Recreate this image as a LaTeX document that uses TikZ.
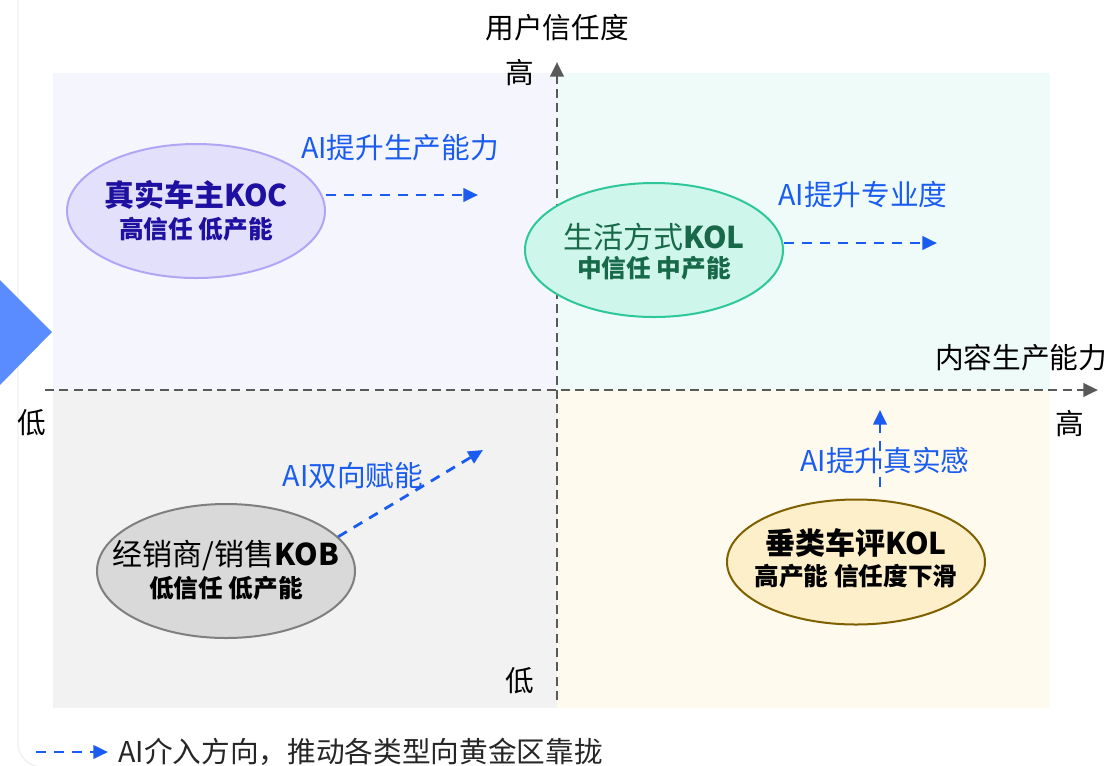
\documentclass[tikz,border=0pt]{standalone}
\usepackage{fontspec}
\setmainfont{Noto Sans CJK SC}
\usetikzlibrary{arrows.meta,shapes.geometric}
\definecolor{tlfill}{HTML}{F5F5FE}
\definecolor{trfill}{HTML}{EEFBF8}
\definecolor{blfill}{HTML}{F2F2F2}
\definecolor{brfill}{HTML}{FEFAEE}
\definecolor{eonefill}{HTML}{E3E0FB}
\definecolor{eonedraw}{HTML}{B0A6F5}
\definecolor{eonetext}{HTML}{1E10A0}
\definecolor{etwofill}{HTML}{CFF6EA}
\definecolor{etwodraw}{HTML}{2DC79A}
\definecolor{etwotext}{HTML}{17694A}
\definecolor{ethreefill}{HTML}{D9D9D9}
\definecolor{ethreedraw}{HTML}{7F7F7F}
\definecolor{efourfill}{HTML}{FCEFC9}
\definecolor{efourdraw}{HTML}{7F6000}
\definecolor{aiblue}{HTML}{1A5CF0}
\definecolor{axisgray}{HTML}{595959}
\definecolor{tricol}{HTML}{5B8CFF}
\definecolor{framecol}{HTML}{F0F0F0}
\newcommand{\lblfont}{\fontsize{21.5}{24}\selectfont}
\newcommand{\ttlfont}{\fontsize{22.5}{26}\selectfont}
\newcommand{\subfont}{\fontsize{18.5}{21}\selectfont\bfseries}
\begin{document}
\begin{tikzpicture}[x=0.75pt,y=-0.75pt,
  ell/.style={ellipse, line width=1.5pt, minimum width=193.5pt, minimum height=100.5pt, inner sep=0pt},
  axisline/.style={draw=axisgray, line width=2.2pt, dash pattern=on 6.75pt off 4pt, -{Triangle[length=11pt,width=10pt]}},
  aiarrow/.style={draw=aiblue, line width=2.1pt, dash pattern=on 7.5pt off 6pt, -{Triangle[length=11pt,width=10pt]}},
  lbl/.style={inner sep=0pt, font=\lblfont},
  ailbl/.style={lbl, text=aiblue},
  ttl/.style={inner sep=0pt, font=\ttlfont},
  sub/.style={inner sep=0pt, font=\subfont}
]
\useasboundingbox (0,0) rectangle (1111,765);
\fill[white] (0,0) rectangle (1111,765);
% frame
\draw[framecol, line width=1pt, rounded corners=18pt] (18,-30) rectangle (1150,767);
% quadrants
\fill[tlfill] (53,73) rectangle (557,390);
\fill[trfill] (557,73) rectangle (1050,390);
\fill[blfill] (53,390) rectangle (557,708);
\fill[brfill] (557,390) rectangle (1050,708);
% left triangle
\fill[tricol] (0,280) -- (52,332) -- (0,385) -- cycle;
% axes
\coordinate (vbot) at (557,700);
\coordinate (vtop) at (557,62);
\coordinate (hleft) at (45,390);
\coordinate (hright) at (1098,390);
\draw[axisline] (vbot) -- (vtop);
\draw[axisline] (hleft) -- (hright);
% axis labels
\node[lbl] (ytitle) at (557,28) {用户信任度};
\node[lbl] (yhigh) at (520,73) {高};
\node[lbl] (ylow) at (520,681) {低};
\node[lbl] (xlow) at (32,423) {低};
\node[lbl] (xhigh) at (1070,424) {高};
\node[lbl] (xtitle) at (1021,358) {内容生产能力};
% ellipses
\node[ell, fill=eonefill, draw=eonedraw] (e1) at (196,211) {};
\node[ttl, text=eonetext] (t1) at (196,195) {\bfseries 真实车主KOC};
\node[sub, text=eonetext] (s1) at (196,229) {高信任 低产能};
\node[ell, fill=etwofill, draw=etwodraw] (e2) at (654,250) {};
\node[ttl, text=etwotext] (t2) at (654,237) {生活方式\textbf{KOL}};
\node[sub, text=etwotext] (s2) at (654,268) {中信任 中产能};
\node[ell, fill=ethreefill, draw=ethreedraw] (e3) at (226,571) {};
\node[ttl] (t3) at (226,556) {经销商/销售\textbf{KOB}};
\node[sub] (s3) at (226,588) {低信任 低产能};
\node[ell, fill=efourfill, draw=efourdraw, minimum height=93.75pt] (e4) at (856,562) {};
\node[ttl] (t4) at (856,543) {\bfseries 垂类车评KOL};
\node[sub] (s4) at (856,576) {高产能 信任度下滑};
% AI arrows
\coordinate (a1) at (478,195);
\draw[aiarrow] (e1.east |- a1) -- (a1);
\node[ailbl] (l1) at (400,148) {AI提升生产能力};
\coordinate (a2) at (937,243);
\draw[aiarrow] (e2.east |- a2) -- (a2);
\node[ailbl] (l2) at (863,195) {AI提升专业度};
\coordinate (a3) at (483,450);
\draw[aiarrow] (e3.17) -- (a3);
\node[ailbl] (l3) at (353,476) {AI双向赋能};
\coordinate (b4) at (880,487);
\coordinate (a4) at (880,410);
\draw[aiarrow] (b4) -- (a4);
\node[ailbl] (l4) at (885,461) {AI提升真实感};
% legend
\coordinate (lg1) at (36,752);
\coordinate (lg2) at (108,752);
\draw[aiarrow] (lg1) -- (lg2);
\node[lbl, anchor=west, text=black!85] (lgt) at (118,752) {AI介入方向，推动各类型向黄金区靠拢};
\end{tikzpicture}
\end{document}
